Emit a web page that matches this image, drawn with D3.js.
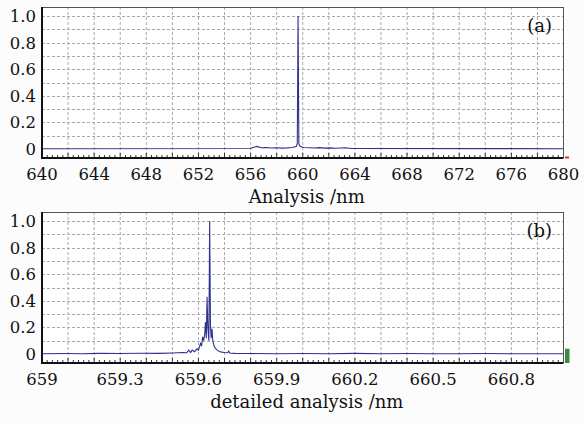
<!DOCTYPE html>
<html lang="en">
<head>
<meta charset="UTF-8">
<title>Spectrum</title>
<script src="https://d3js.org/d3.v7.min.js"></script>
<style>
    body { margin: 0; background: #fcfcfc; }
    text { font-family: "DejaVu Serif", serif; fill: #111; }
</style>
</head>
<body>
<script>
    // panel (a) - wide scan
    const wlA = [640, 656.0, 656.3, 656.5, 656.8, 657.2, 657.6, 658.0, 658.4, 658.8, 659.2, 659.5, 659.58, 659.64, 659.70, 659.8, 660.1, 660.5, 660.9, 661.3, 661.7, 662.1, 662.5, 662.9, 663.3, 663.7, 680];
    const intA = [0.003, 0.004, 0.015, 0.02, 0.01, 0.012, 0.008, 0.01, 0.007, 0.009, 0.012, 0.02, 0.04, 1.0, 0.04, 0.02, 0.012, 0.01, 0.008, 0.011, 0.007, 0.009, 0.006, 0.008, 0.01, 0.004, 0.003];
    const ticksA = [640, 644, 648, 652, 656, 660, 664, 668, 672, 676, 680];

    // panel (b) - detailed scan
    const wlB = [659.00, 659.10, 659.15, 659.22, 659.30, 659.38, 659.45, 659.50, 659.54, 659.555, 659.563, 659.57, 659.576, 659.585, 659.595, 659.60, 659.608, 659.612, 659.616, 659.62, 659.624, 659.627, 659.630, 659.633, 659.636, 659.640, 659.643, 659.646, 659.649, 659.652, 659.655, 659.660, 659.666, 659.672, 659.68, 659.69, 659.70, 659.712, 659.716, 659.72, 659.74, 659.80, 659.90, 660.0, 660.1, 660.2, 660.3, 660.4, 660.5, 660.6, 660.7, 660.8, 660.9, 661.0];
    const intB = [0.003, 0.004, 0.003, 0.005, 0.004, 0.006, 0.005, 0.008, 0.012, 0.01, 0.03, 0.012, 0.03, 0.018, 0.04, 0.03, 0.08, 0.06, 0.13, 0.1, 0.15, 0.24, 0.12, 0.43, 0.2, 0.1, 1.0, 0.22, 0.12, 0.19, 0.1, 0.06, 0.04, 0.03, 0.02, 0.015, 0.012, 0.01, 0.022, 0.008, 0.005, 0.004, 0.003, 0.004, 0.003, 0.005, 0.003, 0.004, 0.003, 0.003, 0.004, 0.003, 0.003, 0.003];
    const ticksB = [659, 659.3, 659.6, 659.9, 660.2, 660.5, 660.8];

    const yTicks = [0, 0.2, 0.4, 0.6, 0.8, 1.0];

    const width = 584, height = 424;
    const left = 42, right = 563.5, ph = 151;

    const svg = d3.select("body").append("svg")
        .attr("width", width)
        .attr("height", height);

    function panel(top, xDomain, gridStep, wl, inten, ticks, fmt, title, tag) {
        const x = d3.scaleLinear().domain(xDomain).range([left, right]);
        const y = d3.scaleLinear().domain([-0.067, 1.068]).range([top + ph, top]);
        const g = svg.append("g");

        g.append("rect")
            .attr("x", left).attr("y", top)
            .attr("width", right - left).attr("height", ph)
            .attr("fill", "#fff");

        // grid
        const nx = Math.round((xDomain[1] - xDomain[0]) / gridStep);
        const gx = d3.range(1, nx).map(i => xDomain[0] + i * gridStep);
        g.selectAll(".vg").data(gx).enter().append("line")
            .attr("x1", d => x(d)).attr("x2", d => x(d))
            .attr("y1", top).attr("y2", top + ph)
            .attr("stroke", "#aaa").attr("stroke-dasharray", "3,2");
        const gy = d3.range(1, 11).map(i => i / 10);
        g.selectAll(".hg").data(gy).enter().append("line")
            .attr("x1", left).attr("x2", right)
            .attr("y1", d => Math.round(y(d)) + 0.5).attr("y2", d => Math.round(y(d)) + 0.5)
            .attr("stroke", "#aaa").attr("stroke-dasharray", "3,2");

        // minor ticks along bottom, pointing in
        const minor = d3.range(1, nx * 5).map(i => xDomain[0] + i * gridStep / 5);
        g.selectAll(".mt").data(minor).enter().append("line")
            .attr("x1", d => x(d)).attr("x2", d => x(d))
            .attr("y1", top + ph).attr("y2", (d, i) => top + ph - ((i + 1) % 5 === 0 ? 5 : 3))
            .attr("stroke", "#333");

        // data
        const line = d3.line().x((d, i) => x(wl[i])).y(d => y(d));
        g.append("path")
            .datum(inten)
            .attr("d", line)
            .attr("fill", "none")
            .attr("stroke", "#2e3190")
            .attr("stroke-width", 1.1);

        // frame
        g.append("line").attr("x1", left).attr("x2", right).attr("y1", top + 0.5).attr("y2", top + 0.5)
            .attr("stroke", "#555");
        g.append("line").attr("x1", right).attr("x2", right).attr("y1", top).attr("y2", top + ph)
            .attr("stroke", "#555");
        g.append("line").attr("x1", left).attr("x2", left).attr("y1", top).attr("y2", top + ph + 1)
            .attr("stroke", "#111").attr("stroke-width", 2);
        g.append("line").attr("x1", left - 1).attr("x2", right).attr("y1", top + ph).attr("y2", top + ph)
            .attr("stroke", "#111").attr("stroke-width", 2);

        // x tick labels
        g.selectAll(".xt").data(ticks).enter().append("text")
            .attr("x", d => x(d))
            .attr("y", top + ph + 22)
            .attr("text-anchor", "middle")
            .style("font-size", "16.5px")
            .text(fmt);

        // y tick labels
        g.selectAll(".yt").data(yTicks).enter().append("text")
            .attr("x", 36)
            .attr("y", d => y(d))
            .attr("dy", "0.36em")
            .attr("text-anchor", "end")
            .style("font-size", "16.5px")
            .text(d => d === 0 ? "0" : d3.format(".1f")(d));

        // axis title
        g.append("text")
            .attr("x", (left + right) / 2 + 4)
            .attr("y", top + ph + 45)
            .attr("text-anchor", "middle")
            .style("font-size", "18px")
            .text(title);

        g.append("text")
            .attr("x", 552)
            .attr("y", top + 25)
            .attr("text-anchor", "end")
            .style("font-size", "18px")
            .text(tag);

        return { x, y };
    }

    const pa = panel(7, [640, 680], 2, wlA, intA, ticksA, d => d, "Analysis /nm", "(a)");
    const pb = panel(212, [659, 661], 0.1, wlB, intB, ticksB, d => d === 659 ? "659" : d3.format(".1f")(d), "detailed analysis /nm", "(b)");

    // small markers at the right edge
    svg.append("rect")
        .attr("x", right + 1.5).attr("y", 7 + ph - 1.5)
        .attr("width", 4).attr("height", 2)
        .attr("fill", "#e03030");
    svg.append("rect")
        .attr("x", right + 1.5).attr("y", pb.y(0.04))
        .attr("width", 4.5).attr("height", 212 + ph - pb.y(0.04))
        .attr("fill", "#3a8a45");
</script>
</body>
</html>
